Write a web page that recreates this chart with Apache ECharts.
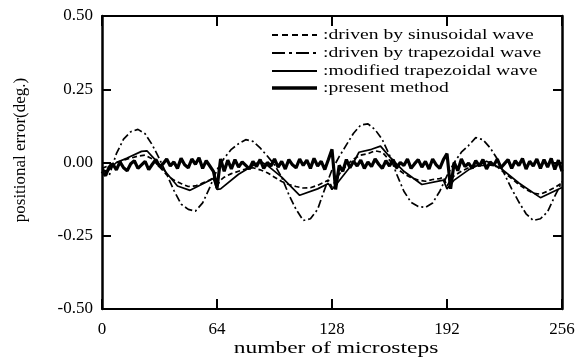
<!DOCTYPE html>
<html>
<head>
<meta charset="utf-8">
<script src="https://cdn.jsdelivr.net/npm/echarts@6/dist/echarts.min.js"></script>
<style>html,body{margin:0;padding:0;background:#fff}#c{width:584px;height:363px}</style>
</head>
<body>
<div id="c"></div>
<script>
// ---- data ----
const xTicks = [0, 64, 128, 192, 256];
const yTicks = [-0.50, -0.25, 0.00, 0.25, 0.50];

const seriesNames = [
  'driven by sinusoidal wave',
  'driven by trapezoidal wave',
  'modified trapezoidal wave',
  'present method'
];

// driven by sinusoidal wave (dashed)
const sinSteps = [0,4,8,12,16,20,24,28,32,36,40,44,48,52,56,60,62,64,66,68,72,76,80,84,88,92,96,100,104,108,112,116,120,124,126,128,130,132,136,140,144,148,152,156,160,164,168,172,176,180,184,188,190,192,194,196,200,204,208,212,216,220,224,228,232,236,240,244,248,252,256];
const sinVals  = [-0.02,-0.01,0.0,0.008,0.015,0.022,0.025,0.012,-0.015,-0.042,-0.06,-0.072,-0.082,-0.08,-0.07,-0.06,-0.05,-0.08,-0.06,-0.05,-0.038,-0.03,-0.022,-0.018,-0.025,-0.035,-0.05,-0.065,-0.075,-0.082,-0.087,-0.086,-0.078,-0.066,-0.06,-0.085,-0.06,-0.04,-0.01,0.012,0.025,0.03,0.04,0.035,0.008,-0.02,-0.038,-0.052,-0.06,-0.064,-0.058,-0.055,-0.05,-0.08,-0.06,-0.045,-0.03,-0.018,-0.012,-0.01,-0.008,-0.015,-0.035,-0.055,-0.075,-0.092,-0.105,-0.108,-0.098,-0.085,-0.07];

// driven by trapezoidal wave (dash-dot)
const trapSteps = [0,4,8,12,16,20,24,28,32,36,40,44,48,52,56,60,64,68,72,76,80,84,88,92,96,100,104,108,112,116,120,124,128,132,136,140,144,148,152,156,160,164,168,172,176,180,184,188,192,196,200,204,208,212,216,220,224,228,232,236,240,244,248,252,256];
const trapVals  = [-0.02,-0.045,0.03,0.08,0.105,0.113,0.098,0.06,0.012,-0.04,-0.095,-0.142,-0.16,-0.166,-0.138,-0.085,-0.025,0.015,0.045,0.064,0.078,0.072,0.05,0.022,-0.008,-0.05,-0.11,-0.16,-0.198,-0.192,-0.16,-0.09,-0.025,0.02,0.06,0.1,0.128,0.132,0.112,0.078,0.025,-0.04,-0.098,-0.136,-0.15,-0.153,-0.138,-0.098,-0.045,0.0,0.035,0.058,0.085,0.078,0.05,0.012,-0.04,-0.09,-0.135,-0.175,-0.198,-0.192,-0.168,-0.115,-0.065];

// modified trapezoidal wave (thin solid)
const modSteps = [0,3,8,14,22,25,28,31,42,49,62,64,66,76,88,92,100,110,120,126,128,131,140,143,150,155,160,168,178,190,192,196,204,214,222,232,244,256];
const modVals  = [-0.025,-0.03,0.0,0.015,0.038,0.04,0.02,0.0,-0.08,-0.095,-0.055,-0.092,-0.09,-0.04,0.004,-0.01,-0.05,-0.112,-0.09,-0.072,-0.092,-0.07,0.0,0.035,0.045,0.056,0.02,-0.03,-0.075,-0.06,-0.09,-0.06,-0.025,0.004,-0.02,-0.07,-0.12,-0.085];

// present method (thick solid), one value every 2 microsteps from 0 to 256
const presentSteps = [0,2,4,6,8,10,12,14,16,18,20,22,24,26,28,30,32,34,36,38,40,42,44,46,48,50,52,54,56,58,60,62,64,66,68,70,72,74,76,78,80,82,84,86,88,90,92,94,96,98,100,102,104,106,108,110,112,114,116,118,120,122,124,126,128,130,132,134,136,138,140,142,144,146,148,150,152,154,156,158,160,162,164,166,168,170,172,174,176,178,180,182,184,186,188,190,192,194,196,198,200,202,204,206,208,210,212,214,216,218,220,222,224,226,228,230,232,234,236,238,240,242,244,246,248,250,252,254,256];
const presentVals = [
  -0.03,-0.045,-0.015,-0.005,-0.025,0.002,-0.018,-0.028,
  -0.004,0.006,-0.02,-0.008,0.004,-0.024,-0.006,0.01,
  -0.014,-0.004,0.012,-0.012,0.002,-0.02,0.014,-0.008,
  -0.018,0.012,-0.006,0.016,-0.02,0.006,-0.012,-0.03,
  -0.088,0.012,-0.03,0.008,-0.022,0.01,-0.016,0.002,
  -0.01,-0.022,0.004,-0.014,0.01,-0.02,0.0,-0.012,
  0.012,-0.016,0.004,-0.022,0.01,-0.008,-0.018,0.012,
  -0.01,0.008,-0.02,0.014,-0.012,0.004,-0.024,0.01,
  0.045,-0.092,-0.01,-0.03,0.01,-0.018,0.004,-0.012,
  0.008,-0.02,0.002,-0.014,0.012,-0.006,-0.02,0.006,
  -0.012,0.01,-0.018,0.0,-0.01,0.012,-0.02,-0.004,
  0.01,-0.016,0.004,-0.022,0.012,-0.008,-0.02,0.01,
  0.03,-0.09,0.0,-0.028,0.012,-0.014,-0.002,-0.02,
  0.006,-0.012,0.01,-0.022,0.002,-0.01,0.012,-0.018,
  -0.004,0.01,-0.02,0.006,-0.01,0.014,-0.022,0.004,
  -0.012,0.012,-0.02,0.01,-0.016,0.014,-0.024,0.008,
  -0.03
];

const xTitle = 'number of microsteps';
const yTitle = 'positional error(deg.)';

// ---- chart ----
function pairs(xs, ys) { return xs.map((x, i) => [x, ys[i]]); }

const FONT = '"Liberation Serif", "Times New Roman", serif';
const chart = echarts.init(document.getElementById('c'), null, {renderer: 'canvas'});

const lineStyles = [
  {color: '#000', width: 1.7, type: [5, 3]},
  {color: '#000', width: 1.7, type: [8, 3, 2, 3]},
  {color: '#000', width: 1.7, type: 'solid'},
  {color: '#000', width: 3.2, type: 'solid'}
];
const legendLineStyles = [
  {width: 2, dash: [6, 4]},
  {width: 2, dash: [13, 4, 3, 4]},
  {width: 2, dash: null},
  {width: 3.5, dash: null}
];

// legend drawn as graphic (horizontal text stretched like the reference)
const legendRowsY = [35, 53, 71, 88];
const legendGraphic = [];
seriesNames.forEach((n, i) => {
  legendGraphic.push({
    type: 'line', silent: true,
    shape: {x1: 272, y1: legendRowsY[i], x2: 317, y2: legendRowsY[i]},
    style: {stroke: '#000', lineWidth: legendLineStyles[i].width, lineDash: legendLineStyles[i].dash}
  });
  legendGraphic.push({
    type: 'text', silent: true, x: 323, y: legendRowsY[i], scaleX: 1.4,
    style: {text: ':' + n, font: '14px "Liberation Serif", serif', fill: '#000',
            textVerticalAlign: 'middle', textAlign: 'left'}
  });
});

const axisLineStyle = {color: '#000', width: 2};

chart.setOption({
  animation: false,
  backgroundColor: '#fff',
  grid: {left: 102, right: 22, top: 16, bottom: 54, containLabel: false},
  graphic: legendGraphic.concat([
    {type: 'text', silent: true, x: 336, y: 349, scaleX: 1.38,
     style: {text: xTitle, font: '17px "Liberation Serif", serif', fill: '#000',
             textAlign: 'center', textVerticalAlign: 'middle'}},
    {type: 'text', silent: true, x: 21, y: 150, rotation: Math.PI / 2,
     style: {text: yTitle, font: '17px "Liberation Serif", serif', fill: '#000',
             textAlign: 'center', textVerticalAlign: 'middle'}}
  ]),
  xAxis: [
    {
      type: 'value', min: xTicks[0], max: xTicks[xTicks.length - 1], interval: 64,
      position: 'bottom',
      axisLine: {show: true, onZero: false, lineStyle: axisLineStyle},
      axisTick: {show: true, inside: true, length: 10, lineStyle: {color: '#000', width: 2}},
      splitLine: {show: false},
      axisLabel: {fontFamily: FONT, fontSize: 17, color: '#000', margin: 12}
    },
    {
      type: 'value', min: xTicks[0], max: xTicks[xTicks.length - 1], interval: 64,
      position: 'top',
      axisLine: {show: true, onZero: false, lineStyle: axisLineStyle},
      axisTick: {show: true, inside: true, length: 10, lineStyle: {color: '#000', width: 2}},
      splitLine: {show: false},
      axisLabel: {show: false}
    }
  ],
  yAxis: [
    {
      type: 'value', min: yTicks[0], max: yTicks[yTicks.length - 1], interval: 0.25,
      position: 'left',
      axisLine: {show: true, onZero: false, lineStyle: {color: '#000', width: 2.5}},
      axisTick: {show: true, inside: true, length: 9, lineStyle: {color: '#000', width: 2}},
      splitLine: {show: false},
      axisLabel: {fontFamily: FONT, fontSize: 17, color: '#000', margin: 9,
        formatter: v => v.toFixed(2)}
    },
    {
      type: 'value', min: yTicks[0], max: yTicks[yTicks.length - 1], interval: 0.25,
      position: 'right',
      axisLine: {show: true, onZero: false, lineStyle: {color: '#000', width: 2.5}},
      axisTick: {show: true, inside: true, length: 9, lineStyle: {color: '#000', width: 2}},
      splitLine: {show: false},
      axisLabel: {show: false}
    }
  ],
  series: [
    {name: seriesNames[0], type: 'line', symbol: 'none', data: pairs(sinSteps, sinVals),
     lineStyle: lineStyles[0], z: 3},
    {name: seriesNames[1], type: 'line', symbol: 'none', data: pairs(trapSteps, trapVals),
     lineStyle: lineStyles[1], z: 3},
    {name: seriesNames[2], type: 'line', symbol: 'none', data: pairs(modSteps, modVals),
     lineStyle: lineStyles[2], z: 3},
    {name: seriesNames[3], type: 'line', symbol: 'none', data: pairs(presentSteps, presentVals),
     lineStyle: lineStyles[3], z: 4}
  ]
});
</script>
</body>
</html>
